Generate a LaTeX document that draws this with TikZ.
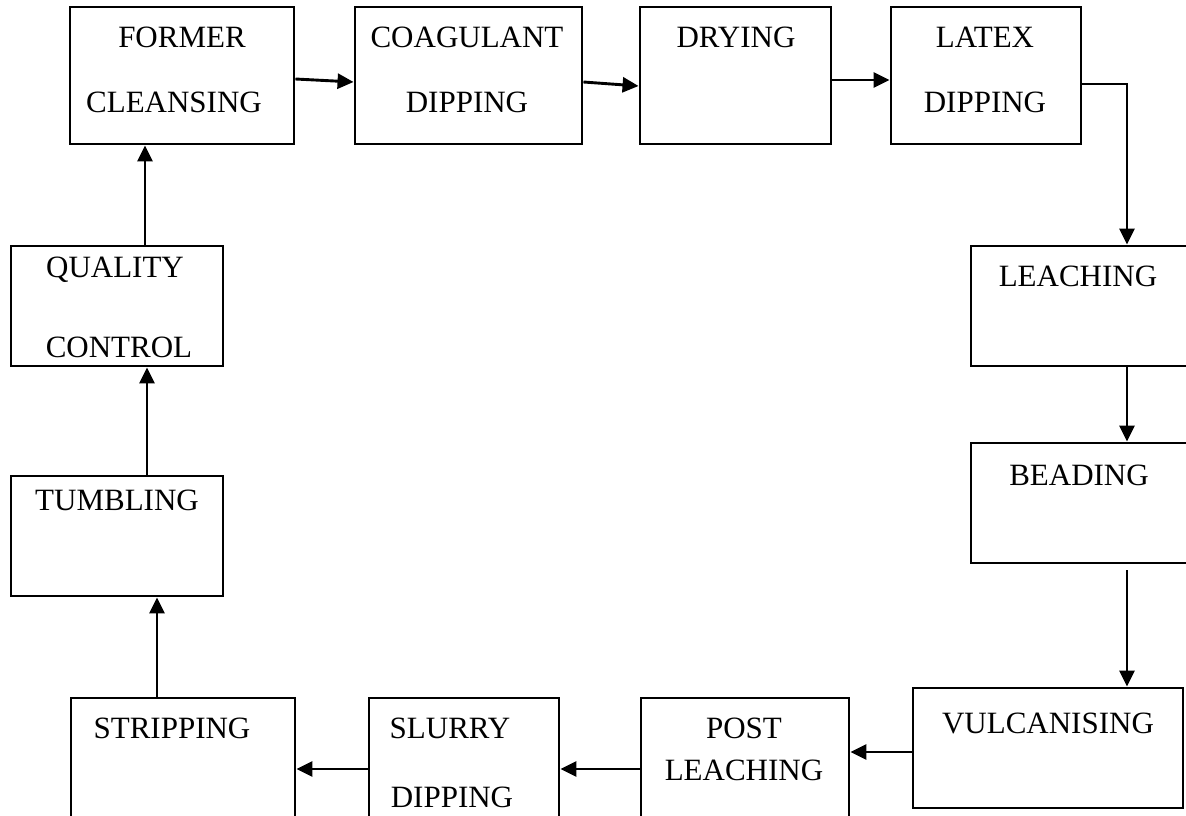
\documentclass[tikz,border=0pt]{standalone}
\usepackage{fontspec}
\setmainfont{Liberation Serif}
\usepackage{xcolor}
\usepackage{tikz}
\usetikzlibrary{arrows.meta}
\definecolor{ink}{HTML}{000000}
\definecolor{paper}{HTML}{FFFFFF}
\tikzset{
  stagebox/.style={draw=ink, line width=2.9pt, fill=paper, inner sep=0pt},
  stagetxt/.style={text=ink, inner sep=0pt, anchor=base, font=\fontsize{31}{36}\selectfont},
  flow/.style={draw=ink, line width=2.9pt, -{Triangle[length=16pt,width=15pt]}}
}

\begin{document}
\begin{tikzpicture}[x=1pt, y=-1pt]
  \clip (0,0) rectangle (1186,816);
  \fill[paper] (0,0) rectangle (1186,816);

  % top row
  \node[stagebox, minimum width=224pt, minimum height=137pt] (former) at (182,75.5) {};
  \node[stagebox, minimum width=227pt, minimum height=137pt] (coag) at (468.5,75.5) {};
  \node[stagebox, minimum width=191pt, minimum height=137pt] (dry) at (735.5,75.5) {};
  \node[stagebox, minimum width=190pt, minimum height=137pt] (latex) at (986,75.5) {};

  % right column
  \node[stagebox, minimum width=224pt, minimum height=120pt] (leach) at (1083,306) {};
  \node[stagebox, minimum width=224pt, minimum height=120pt] (bead) at (1083,503) {};
  \node[stagebox, minimum width=270pt, minimum height=120pt] (vulc) at (1048,748) {};

  % bottom row
  \node[stagebox, minimum width=208pt, minimum height=142pt] (post) at (745,769) {};
  \node[stagebox, minimum width=190pt, minimum height=142pt] (slurry) at (464,769) {};
  \node[stagebox, minimum width=224pt, minimum height=142pt] (strip) at (183,769) {};

  % left column
  \node[stagebox, minimum width=212pt, minimum height=120pt] (tumb) at (117,536) {};
  \node[stagebox, minimum width=212pt, minimum height=120pt] (qc) at (117,306) {};

  % labels
  \node[stagetxt] (formerA) at (182,47.5) {FORMER};
  \node[stagetxt] (formerB) at (174,112.5) {CLEANSING};
  \node[stagetxt] (coagA) at (467,47.5) {COAGULANT};
  \node[stagetxt] (coagB) at (467,112.5) {DIPPING};
  \node[stagetxt] (dryA) at (736,47.5) {DRYING};
  \node[stagetxt] (latexA) at (985,47.5) {LATEX};
  \node[stagetxt] (latexB) at (985,112.5) {DIPPING};
  \node[stagetxt] (leachA) at (1078,286.5) {LEACHING};
  \node[stagetxt] (beadA) at (1079,485.5) {BEADING};
  \node[stagetxt] (vulcA) at (1048,733.5) {VULCANISING};
  \node[stagetxt] (postA) at (744,738.5) {POST};
  \node[stagetxt] (postB) at (744,780.5) {LEACHING};
  \node[stagetxt] (slurryA) at (450,738.5) {SLURRY};
  \node[stagetxt] (slurryB) at (452,807.5) {DIPPING};
  \node[stagetxt] (stripA) at (172,738.5) {STRIPPING};
  \node[stagetxt] (tumbA) at (117,510.5) {TUMBLING};
  \node[stagetxt] (qcA) at (115,277.5) {QUALITY};
  \node[stagetxt] (qcB) at (119,357.5) {CONTROL};

  \coordinate (rail) at (1127,0);

  % process flow
  \draw[flow] ([yshift=-3.5pt]former.east) -- ([yshift=-6.5pt]coag.west);
  \draw[flow] ([yshift=-6.5pt]coag.east) -- ([yshift=-10.5pt]dry.west);
  \draw[flow] ([yshift=-4.5pt]dry.east) -- ([yshift=-4.5pt]latex.west);
  \draw[flow] ([yshift=-8.5pt]latex.east) -| (rail |- leach.north);
  \draw[flow] (rail |- leach.south) -- (rail |- bead.north);
  \draw[flow] ([yshift=-6pt]rail |- bead.south) -- (rail |- vulc.north);
  \draw[flow] ([yshift=-4pt]vulc.west) -- ([yshift=-4pt]vulc.west -| post.east);
  \draw[flow] (post.west) -- (post.west -| slurry.east);
  \draw[flow] (slurry.west) -- (slurry.west -| strip.east);
  \draw[flow] ([xshift=-26pt]strip.north) -- ([xshift=-26pt]strip.north |- tumb.south);
  \draw[flow] ([xshift=30pt]tumb.north) -- ([xshift=30pt]tumb.north |- qc.south);
  \draw[flow] ([xshift=28pt]qc.north) -- ([xshift=28pt]qc.north |- former.south);
\end{tikzpicture}
\end{document}
